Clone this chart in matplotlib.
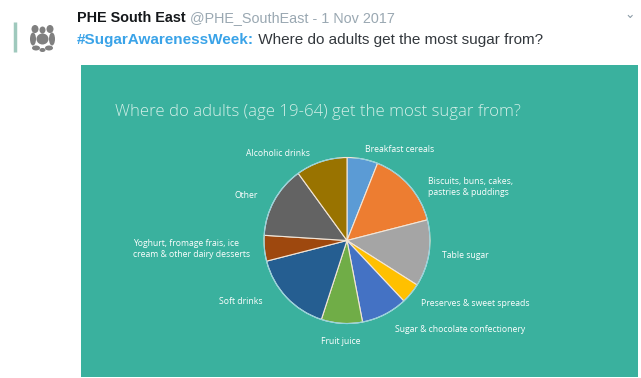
import matplotlib
matplotlib.use("Agg")
import matplotlib.pyplot as plt
from matplotlib.patches import Rectangle, Ellipse

# ---- data ----
categories = [
    "Breakfast cereals",
    "Biscuits, buns, cakes,\npastries & puddings",
    "Table sugar",
    "Preserves & sweet spreads",
    "Sugar & chocolate confectionery",
    "Fruit juice",
    "Soft drinks",
    "Yoghurt, fromage frais, ice\ncream & other dairy desserts",
    "Other",
    "Alcoholic drinks",
]
shares = [6, 15, 13, 4, 9, 8, 16, 5, 14, 10]
colors = ["#5B9BD5", "#ED7D31", "#A5A5A5", "#FFC000", "#4472C4",
          "#70AD47", "#255E91", "#9E480E", "#636363", "#997300"]

title = "Where do adults (age 19-64) get the most sugar from?"
tweet_name = "PHE South East"
tweet_meta = "@PHE_SouthEast - 1 Nov 2017"
tweet_tag = "#SugarAwarenessWeek:"
tweet_text = " Where do adults get the most sugar from?"

# ---- layout (pixel positions of labels) ----
label_pos = [
    (365, 150, "left"),
    (428, 187, "left"),
    (442, 255, "left"),
    (421, 303, "left"),
    (395, 329, "left"),
    (341, 341, "center"),
    (263, 302, "right"),
    (250, 249, "right"),
    (258, 196, "right"),
    (310, 154, "right"),
]

W, H = 641, 378
fig = plt.figure(figsize=(W / 100, H / 100), dpi=100)
fig.patch.set_facecolor("white")

bg = fig.add_axes([0, 0, 1, 1])
bg.set_xlim(0, W)
bg.set_ylim(H, 0)
bg.axis("off")

# teal panel
bg.add_patch(Rectangle((81, 65), 557, 312, facecolor="#3AB19E", edgecolor="none"))

# tweet header
bg.plot([15, 15], [22, 52], color="#9fc9bd", lw=2.5, solid_capstyle="butt")
for (ex, ey, w, h) in [(35, 29, 7, 8), (50, 29, 7, 8), (42.5, 30, 6, 7),
                       (42.5, 39, 12, 11), (33, 39, 6, 13), (52, 39, 6, 13),
                       (36, 48, 8, 5), (49, 48, 8, 5), (42.5, 50, 6, 4)]:
    bg.add_patch(Ellipse((ex, ey), w, h, facecolor="#555555", edgecolor="none", alpha=0.75))

fam = ["Liberation Sans", "DejaVu Sans"]
t1 = bg.text(77, 18, tweet_name, fontsize=10.4, fontweight="bold", color="#14171a",
             va="center", ha="left", family=fam)
fig.canvas.draw()
bb = t1.get_window_extent()
bg.text(bb.x1 + 4, 18, tweet_meta, fontsize=10.4, color="#9aa8b2",
        va="center", ha="left", family=fam)
t2 = bg.text(77, 40, tweet_tag, fontsize=11, color="#3aa3e8",
             va="center", ha="left", family=fam, fontweight="bold")
fig.canvas.draw()
bb2 = t2.get_window_extent()
bg.text(bb2.x1, 40, tweet_text, fontsize=11, color="#33383d",
        va="center", ha="left", family=fam)
bg.text(630, 14, "\u2304", fontsize=9, color="#8a9aa6", va="center", ha="center",
        family=["DejaVu Sans"])

# title
bg.text(115, 112, title, fontsize=12.1, color="#d3efe8", va="center", ha="left",
        family=["Open Sans", "DejaVu Sans"], fontweight="light")

# pie
cx, cy, r = 347, 240.5, 83
pax = fig.add_axes([(cx - r) / W, 1 - (cy + r) / H, 2 * r / W, 2 * r / H])
pax.pie(shares, colors=colors, startangle=90, counterclock=False,
        wedgeprops=dict(edgecolor="#f3e6d8", linewidth=0.8))
pax.set_xlim(-1.0, 1.0)
pax.set_ylim(-1.0, 1.0)
pax.add_patch(plt.Circle((0, 0), 1.0, fill=False, edgecolor="#8fd3e0", lw=0.8))
pax.axis("off")

for lab, (x, y, ha) in zip(categories, label_pos):
    bg.text(x, y, lab, fontsize=6.2, color="white", va="center", ha=ha,
            multialignment="left", linespacing=1.25,
            family=["Open Sans", "DejaVu Sans"])

fig.savefig("out.png", dpi=100, facecolor="white")
